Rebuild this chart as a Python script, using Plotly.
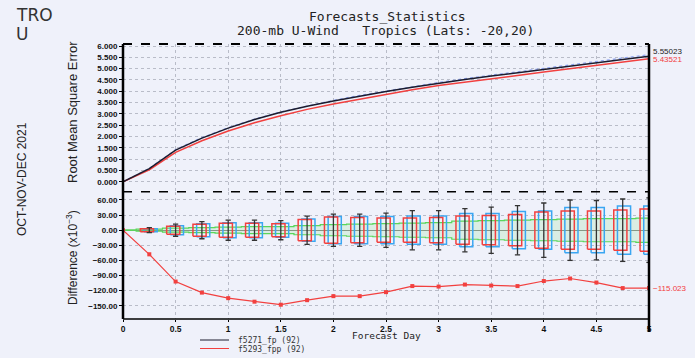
import plotly.graph_objects as go

# ---------------- data ----------------
days = [0, 0.25, 0.5, 0.75, 1, 1.25, 1.5, 1.75, 2, 2.25, 2.5, 2.75, 3, 3.25, 3.5, 3.75, 4, 4.25, 4.5, 4.75, 5]
rmse_fp = [0.000, 0.58, 1.40, 1.93, 2.37, 2.75, 3.07, 3.34, 3.57, 3.79, 3.99, 4.18, 4.36, 4.52, 4.67, 4.81, 4.95, 5.10, 5.25, 5.40, 5.55023]
rmse_fpp = [0.000, 0.53, 1.30, 1.81, 2.24, 2.61, 2.92, 3.20, 3.44, 3.66, 3.87, 4.07, 4.25, 4.41, 4.56, 4.70, 4.85, 5.00, 5.15, 5.29, 5.43521]
rmse_ref = [0.000, 0.59, 1.42, 1.95, 2.39, 2.77, 3.09, 3.36, 3.60, 3.82, 4.02, 4.21, 4.39, 4.56, 4.71, 4.86, 5.00, 5.16, 5.31, 5.46, 5.62]
diff = [0, -48, -102, -124, -135, -142, -148, -139, -131, -131, -123, -111, -112, -108, -110, -111, -101, -96, -104, -115, -115.023]

box_days = days[1:]
whisker_half = [5, 12, 17, 20, 20, 19, 28, 32, 32, 34, 39, 39, 43, 46, 49, 54, 60, 59, 62, 64]
red_half = [3, 8, 12, 14, 14, 13, 21, 26, 25, 24, 24, 25, 28, 29, 31, 36, 38, 38, 40, 42]
blue_half = [3, 9, 13, 15, 15, 14, 22, 27, 27, 27, 28, 28, 33, 33, 37, 38, 45, 45, 48, 48]
green_half = [0, 2, 4, 5, 6, 7, 7, 9, 11, 12, 13, 14, 15, 18, 19, 20, 21, 22, 23, 23, 24]

legend_names = ["f5271_fp (92)", "f5293_fpp (92)"]
end_labels = ["5.55023", "5.43521", "\u2212115.023"]

BG = "#eff1fa"
RED = "#f2403f"
BLUE = "#3aa6f2"
BLACK = "#1c1c2e"
GREEN = "#5ad65a"

fig = go.Figure()

# ---------------- top panel ----------------
fig.add_trace(go.Scatter(x=days, y=rmse_ref, mode="lines", line=dict(color="#8ea4f2", width=1.2, dash="dot"),
                         showlegend=False, xaxis="x2", yaxis="y"))
fig.add_trace(go.Scatter(x=days, y=rmse_fpp, mode="lines", line=dict(color=RED, width=1.5),
                         showlegend=False, xaxis="x2", yaxis="y"))
fig.add_trace(go.Scatter(x=days, y=rmse_fp, mode="lines", line=dict(color=BLACK, width=1.5),
                         showlegend=False, xaxis="x2", yaxis="y"))

# ---------------- bottom panel ----------------
neg_green = [-g for g in green_half]
fig.add_trace(go.Scatter(x=days, y=neg_green, mode="lines", line=dict(color=GREEN, width=1.2, shape="hvh"),
                         showlegend=False, xaxis="x", yaxis="y2"))
fig.add_trace(go.Scatter(x=days, y=green_half, mode="lines", line=dict(color=GREEN, width=1.2, shape="hvh"),
                         fill="tonexty", fillcolor="rgba(120,220,120,0.18)",
                         showlegend=False, xaxis="x", yaxis="y2"))


def rect_path(xs, halves, left, right):
    px, py = [], []
    for x, h in zip(xs, halves):
        px += [x + left, x + right, x + right, x + left, x + left, None]
        py += [-h, -h, h, h, -h, None]
    return px, py


bx, by = rect_path(box_days, blue_half, -0.05, 0.075)
fig.add_trace(go.Scatter(x=bx, y=by, mode="lines", line=dict(color=BLUE, width=1.5),
                         showlegend=False, xaxis="x", yaxis="y2"))
rx, ry = rect_path(box_days, red_half, -0.085, 0.04)
fig.add_trace(go.Scatter(x=rx, y=ry, mode="lines", line=dict(color=RED, width=1.5),
                         showlegend=False, xaxis="x", yaxis="y2"))

wx, wy = [], []
for x, w in zip(box_days, whisker_half):
    wx += [x, x, None, x - 0.025, x + 0.025, None, x - 0.025, x + 0.025, None]
    wy += [-w, w, None, w, w, None, -w, -w, None]
fig.add_trace(go.Scatter(x=wx, y=wy, mode="lines", line=dict(color="#333333", width=1.3),
                         showlegend=False, xaxis="x", yaxis="y2"))

fig.add_trace(go.Scatter(x=days, y=diff, mode="lines+markers", line=dict(color=RED, width=1.2),
                         marker=dict(symbol="square", size=4, color=RED),
                         showlegend=False, xaxis="x", yaxis="y2"))

SPLIT = 0.463
tickfont = dict(family="Liberation Sans", size=8, color="#111111", weight="bold")
grid = dict(showgrid=True, gridcolor="#b9bcc8", griddash="dot", gridwidth=1)

fig.update_layout(
    width=695, height=358,
    margin=dict(l=123, r=46, t=44, b=39, autoexpand=False),
    paper_bgcolor=BG, plot_bgcolor=BG,
    showlegend=False,
    xaxis=dict(domain=[0, 1], range=[0, 5], dtick=0.5, tick0=0, anchor="y2",
               ticks="outside", ticklen=2, tickcolor="black",
               tickfont=dict(family="Liberation Sans", size=8.5, color="#111111", weight="bold"),
               zeroline=False, **grid),
    xaxis2=dict(domain=[0, 1], range=[0, 5], dtick=0.5, tick0=0, anchor="y", matches="x",
                showticklabels=False, ticks="", zeroline=False, **grid),
    yaxis=dict(domain=[SPLIT, 1], range=[-0.44, 6.09], dtick=0.5, tick0=0, tickformat=".3f",
               ticks="outside", ticklen=3, tickcolor="black", tickfont=tickfont, zeroline=False, **grid),
    yaxis2=dict(domain=[0, SPLIT], range=[-176.4, 76.5], dtick=30, tick0=0, tickformat=".2f",
                ticks="outside", ticklen=3, tickcolor="black", tickfont=tickfont,
                zeroline=True, zerolinecolor="#888888", zerolinewidth=1, **grid),
)


def px_x(p):
    return (p - 123) / 526.0


def px_y(p):
    return (319 - p) / 275.0


# frame
shapes = [
    dict(type="line", xref="paper", yref="paper", x0=0, x1=0, y0=0, y1=1, line=dict(color="black", width=2.5)),
    dict(type="line", xref="paper", yref="paper", x0=1, x1=1, y0=px_y(332), y1=1, line=dict(color="black", width=2.5)),
    dict(type="line", xref="paper", yref="paper", x0=0, x1=1, y0=1, y1=1, line=dict(color="black", width=2, dash="dash")),
    dict(type="line", xref="paper", yref="paper", x0=0, x1=1, y0=SPLIT, y1=SPLIT, line=dict(color="black", width=1.6, dash="dash")),
    dict(type="line", xref="paper", yref="paper", x0=0, x1=1, y0=0, y1=0, line=dict(color="black", width=1.5)),
    # legend samples
    dict(type="line", xref="paper", yref="paper", x0=px_x(200), x1=px_x(229), y0=px_y(340), y1=px_y(340),
         line=dict(color=BLACK, width=1)),
    dict(type="line", xref="paper", yref="paper", x0=px_x(200), x1=px_x(229), y0=px_y(348.5), y1=px_y(348.5),
         line=dict(color=RED, width=1)),
]
fig.update_layout(shapes=shapes)

title_font = dict(family="DejaVu Sans Mono", size=13, color="#222222")
ann = [
    dict(text="TRO", x=px_x(14), y=px_y(15), xanchor="left", yanchor="middle",
         font=dict(family="DejaVu Sans", size=17, color="#333333")),
    dict(text="U", x=px_x(14), y=px_y(33.5), xanchor="left", yanchor="middle",
         font=dict(family="DejaVu Sans", size=17, color="#333333")),
    dict(text="Forecasts_Statistics", x=px_x(387), y=px_y(16), xanchor="center", yanchor="middle", font=title_font),
    dict(text="200-mb U-Wind   Tropics (Lats: -20,20)", x=px_x(385), y=px_y(31), xanchor="center", yanchor="middle",
         font=title_font),
    dict(text="Root Mean Square Error", x=px_x(72), y=px_y(112), textangle=-90, xanchor="center", yanchor="middle",
         font=dict(family="Liberation Sans", size=13, color="#222222")),
    dict(text="Difference (x10<sup>\u22123</sup>)", x=px_x(72), y=px_y(258), textangle=-90, xanchor="center",
         yanchor="middle", font=dict(family="Liberation Sans", size=12, color="#222222")),
    dict(text="OCT-NOV-DEC 2021", x=px_x(22), y=px_y(179), textangle=-90, xanchor="center", yanchor="middle",
         font=dict(family="Liberation Sans", size=12, color="#222222")),
    dict(text="Forecast Day", x=px_x(386), y=px_y(335.5), xanchor="center", yanchor="middle",
         font=dict(family="DejaVu Sans Mono", size=9.5, color="#222222")),
    dict(text=legend_names[0], x=px_x(236), y=px_y(340.5), xanchor="left", yanchor="middle",
         font=dict(family="DejaVu Sans Mono", size=8, color="#333333")),
    dict(text=legend_names[1], x=px_x(236), y=px_y(349), xanchor="left", yanchor="middle",
         font=dict(family="DejaVu Sans Mono", size=8, color="#333333")),
]
for a in ann:
    a.update(xref="paper", yref="paper", showarrow=False)
    fig.add_annotation(**a)

fig.add_annotation(text=end_labels[0], x=5, y=rmse_fp[-1], xref="x2", yref="y", xanchor="left", yanchor="middle",
                   xshift=2, yshift=5, showarrow=False, font=dict(family="Liberation Sans", size=8, color="#222222"))
fig.add_annotation(text=end_labels[1], x=5, y=rmse_fpp[-1], xref="x2", yref="y", xanchor="left", yanchor="middle",
                   xshift=2, yshift=-1, showarrow=False, font=dict(family="Liberation Sans", size=8, color=RED))
fig.add_annotation(text=end_labels[2], x=5, y=diff[-1], xref="x", yref="y2", xanchor="left", yanchor="middle",
                   xshift=2, showarrow=False, font=dict(family="Liberation Sans", size=8, color=RED))

fig.write_html("out.html", config={"displayModeBar": False},
               post_script="document.body.style.margin='0px';")
